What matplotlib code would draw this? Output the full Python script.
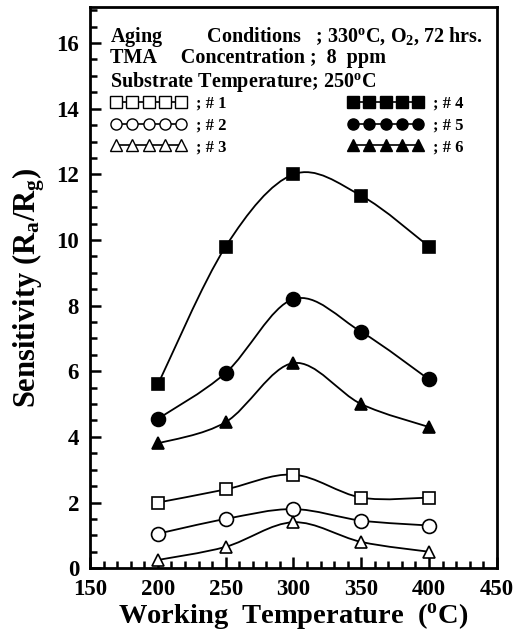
import numpy as np
import matplotlib.pyplot as plt
from matplotlib.path import Path
from matplotlib.patches import PathPatch
from matplotlib.lines import Line2D
from matplotlib.ticker import MultipleLocator

plt.rcParams['font.family'] = 'Liberation Serif'
plt.rcParams['font.weight'] = 'bold'
plt.rcParams['axes.labelweight'] = 'bold'
plt.rcParams['mathtext.fontset'] = 'custom'
plt.rcParams['mathtext.rm'] = 'Liberation Serif:bold'
plt.rcParams['mathtext.it'] = 'Liberation Serif:bold'
plt.rcParams['mathtext.bf'] = 'Liberation Serif:bold'

# working temperature (C)
temps = [200, 250, 300, 350, 400]

# sensitivity Ra/Rg for samples #1..#6
s1 = [2.0, 2.4, 2.85, 2.15, 2.15]
s2 = [1.05, 1.5, 1.8, 1.45, 1.3]
s3 = [0.25, 0.65, 1.4, 0.8, 0.5]
s4 = [5.6, 9.8, 12.0, 11.35, 9.8]
s5 = [4.55, 5.95, 8.2, 7.2, 5.75]
s6 = [3.8, 4.45, 6.25, 5.0, 4.3]

series = [s1, s2, s3, s4, s5, s6]
labels = ['; # 1', '; # 2', '; # 3', '; # 4', '; # 5', '; # 6']
markers = ['s', 'o', '^', 's', 'o', '^']
filled = [False, False, False, True, True, True]


# smooth curve through points (Catmull-Rom -> cubic bezier)
def smooth_path(x, y):
    p = np.column_stack([x, y]).astype(float)
    p = np.vstack([p[0], p, p[-1]])
    verts = [p[1]]
    codes = [Path.MOVETO]
    for i in range(1, len(p) - 2):
        c1 = p[i] + (p[i + 1] - p[i - 1]) / 6.0
        c2 = p[i + 1] - (p[i + 2] - p[i]) / 6.0
        verts += [c1, c2, p[i + 1]]
        codes += [Path.CURVE4] * 3
    return Path(verts, codes)


fig = plt.figure(figsize=(5.24, 6.32), dpi=100)
ax = fig.add_axes([0.172, 0.101, 0.776, 0.888])

handles = []
for y, m, f, lab in zip(series, markers, filled, labels):
    ax.add_patch(PathPatch(smooth_path(temps, y), fill=False, lw=1.3,
                           edgecolor='black', zorder=2))
    fc = 'black' if f else 'white'
    ax.plot(temps, y, ls='none', marker=m, ms=9 if m != 'o' else 10,
            mfc=fc, mec='black', mew=1.2, zorder=3)
    handles.append(Line2D([], [], color='black', lw=1.2, marker=m, ms=8,
                          mfc=fc, mec='black', mew=1.0, label=lab))

ax.set_xlim(150, 450)
ax.set_ylim(0, 17.1)
ax.xaxis.set_major_locator(MultipleLocator(50))
ax.xaxis.set_minor_locator(MultipleLocator(10))
ax.yaxis.set_major_locator(MultipleLocator(2))
ax.yaxis.set_minor_locator(MultipleLocator(0.5))
ax.tick_params(which='both', direction='in', top=False, right=False,
               width=1.8, labelsize=16.5)
ax.tick_params(which='major', length=8)
ax.tick_params(axis='x', which='major', pad=8)
ax.tick_params(axis='y', which='major', pad=8)
ax.tick_params(which='minor', length=5)
for sp in ax.spines.values():
    sp.set_linewidth(2.0)

ax.set_xlabel('Working  Temperature  ($^{\\mathrm{o}}$C)', fontsize=20.5)
ax.xaxis.set_label_coords(0.5, -0.058)
ax.set_ylabel('Sensitivity (R$_{\\mathrm{a}}$/R$_{\\mathrm{g}}$)', fontsize=22)
ax.yaxis.set_label_coords(-0.105, 0.5)

ax.text(0.05, 0.946, 'Aging         Conditions   ; 330$^{\\mathrm{o}}$C, O$_2$, 72 hrs.',
        transform=ax.transAxes, fontsize=14.5, va='center')
ax.text(0.05, 0.909, 'TMA     Concentration ;  8  ppm',
        transform=ax.transAxes, fontsize=14.5, va='center')
ax.text(0.05, 0.866, 'Substrate Temperature; 250$^{\\mathrm{o}}$C',
        transform=ax.transAxes, fontsize=14.5, va='center')

ax.legend(handles=handles, ncol=2, numpoints=5, frameon=False,
          loc='upper left', bbox_to_anchor=(0.035, 0.854),
          fontsize=12, handlelength=4.5, handletextpad=0.6,
          columnspacing=7.3, labelspacing=0.35, borderaxespad=0)

fig.savefig('out.png', dpi=100)
